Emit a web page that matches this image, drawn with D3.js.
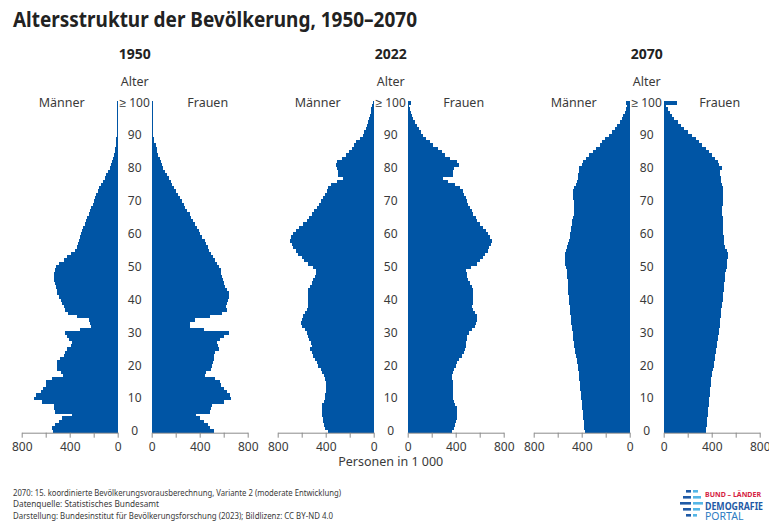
<!DOCTYPE html>
<html>
<head>
<meta charset="utf-8">
<script src="https://cdn.jsdelivr.net/npm/d3@7"></script>
<style>
  body { margin: 0; background: #fff; }
  svg { display: block; }
  text { font-family: 'Noto Sans', sans-serif; }
</style>
</head>
<body>
<svg id="svg" width="769" height="522"></svg>
<script>
// ── Data: population in 1 000 by single year of age (index = age 0..100, last = ≥100) ──
const ages = d3.range(0, 101);
const years = ['1950', '2022', '2070'];

const men1950 = [540, 549, 521, 493, 465, 382, 521, 530, 535, 633, 694, 683, 641, 619, 599, 599, 549, 460, 471, 502,
  502, 502, 479, 451, 438, 420, 390, 382, 404, 424, 438, 312, 223, 234, 242, 340, 415, 438, 451, 465,
  474, 488, 502, 507, 516, 521, 527, 527, 527, 521, 513, 490, 450, 424, 390, 360, 340, 330, 323, 315,
  309, 300, 290, 275, 262, 252, 242, 232, 223, 210, 200, 190, 178, 168, 156, 140, 125, 110, 95, 80,
  67, 57, 47, 37, 30, 25, 20, 17, 14, 12, 10, 9, 9, 9, 9, 9, 9, 9, 9, 9, 9];
const women1950 = [516, 482, 465, 438, 404, 371, 488, 493, 502, 599, 663, 655, 627, 605, 577, 571, 530, 446, 454, 493,
  502, 510, 516, 516, 530, 557, 549, 543, 571, 605, 641, 438, 320, 320, 357, 488, 585, 627, 621, 627,
  635, 641, 641, 627, 613, 599, 594, 585, 577, 577, 557, 543, 530, 512, 496, 480, 465, 452, 440, 420,
  404, 390, 376, 362, 348, 330, 315, 297, 279, 265, 251, 237, 223, 205, 187, 173, 159, 145, 131, 111,
  92, 85, 78, 66, 56, 48, 42, 32, 22, 16, 12, 10, 9, 9, 9, 9, 9, 9, 9, 9, 9];

const men2022 = [379, 407, 415, 421, 421, 429, 435, 435, 429, 415, 407, 404, 399, 401, 401, 401, 407, 415, 429, 443,
  462, 476, 490, 504, 518, 531, 518, 526, 537, 545, 559, 573, 595, 606, 601, 587, 573, 559, 545, 551,
  551, 545, 551, 545, 531, 518, 504, 490, 482, 482, 510, 545, 579, 601, 628, 648, 670, 684, 698, 692,
  675, 648, 620, 587, 559, 537, 518, 495, 471, 457, 443, 421, 407, 393, 379, 352, 310, 255, 296, 296,
  304, 316, 304, 268, 233, 205, 183, 163, 144, 116, 89, 77, 66, 56, 47, 40, 33, 26, 19, 12, 9];
const women2022 = [367, 386, 397, 403, 408, 414, 414, 408, 397, 389, 381, 381, 375, 375, 381, 375, 367, 367, 375, 389,
  403, 414, 431, 450, 469, 481, 486, 486, 492, 497, 514, 533, 561, 569, 575, 575, 561, 547, 536, 542,
  547, 547, 547, 542, 533, 519, 506, 497, 492, 486, 525, 575, 603, 625, 644, 667, 681, 694, 700, 686,
  672, 653, 625, 603, 581, 567, 547, 533, 519, 506, 497, 483, 469, 458, 436, 394, 339, 297, 375, 375,
  386, 431, 408, 353, 311, 283, 250, 214, 186, 150, 131, 108, 92, 75, 61, 47, 36, 25, 17, 11, 25];

const men2070 = [374, 379, 382, 385, 388, 390, 393, 396, 399, 401, 404, 407, 410, 412, 415, 418, 421, 424, 426, 429,
  432, 437, 443, 448, 454, 460, 462, 468, 471, 473, 476, 482, 484, 487, 490, 493, 495, 498, 501, 504,
  507, 509, 512, 512, 515, 518, 518, 520, 520, 526, 534, 540, 540, 540, 540, 534, 526, 512, 504, 498,
  495, 493, 490, 484, 479, 471, 468, 462, 462, 465, 468, 471, 473, 473, 465, 451, 443, 435, 429, 421,
  421, 401, 388, 368, 340, 304, 277, 249, 230, 208, 174, 147, 125, 102, 80, 64, 53, 42, 33, 22, 33];
const women2070 = [350, 356, 358, 361, 364, 367, 369, 372, 375, 378, 381, 383, 386, 389, 392, 394, 397, 400, 406, 411,
  417, 422, 428, 431, 433, 439, 442, 444, 450, 456, 461, 464, 467, 469, 472, 475, 478, 481, 483, 489,
  492, 494, 497, 500, 503, 506, 508, 511, 511, 519, 528, 528, 531, 533, 533, 525, 511, 506, 503, 500,
  497, 494, 497, 494, 492, 492, 489, 489, 489, 492, 497, 492, 494, 497, 497, 483, 478, 475, 469, 469,
  483, 461, 450, 428, 406, 378, 350, 322, 297, 267, 233, 200, 169, 142, 117, 89, 67, 50, 33, 17, 108];

const menByYear = [men1950, men2022, men2070];
const womenByYear = [women1950, women2022, women2070];

const tickValues = [0, 200, 400, 600, 800];
const labelledTicks = [0, 400, 800];
const ageLabels = [0, 10, 20, 30, 40, 50, 60, 70, 80, 90, 100];

const footerLines = [
  '2070: 15. koordinierte Bevölkerungsvorausberechnung, Variante 2 (moderate Entwicklung)',
  'Datenquelle: Statistisches Bundesamt',
  'Darstellung: Bundesinstitut für Bevölkerungsforschung (2023); Bildlizenz: CC BY-ND 4.0',
];
const footerWidths = [328, 146, 320];

// ── Layout ──
const BLUE = '#0055a5';
const TEXT = '#3a3a3a';
const halfW = 96, gap = 34, step = 256, left0 = 21.7;
const plotTop = 100.7, plotBottom = 432.7;

const svg = d3.select('#svg');

svg.append('text')
  .attr('x', 13).attr('y', 27)
  .attr('font-size', 22).attr('font-weight', 700).attr('fill', '#222')
  .attr('textLength', 404).attr('lengthAdjust', 'spacingAndGlyphs')
  .text('Altersstruktur der Bevölkerung, 1950–2070');

const y = d3.scaleBand().domain(ages.slice().reverse()).range([plotTop, plotBottom]).padding(0);

years.forEach((year, i) => {
  const ox = left0 + i * step;
  const cx = ox + halfW + gap / 2;
  const xL = d3.scaleLinear().domain([0, 800]).range([ox + halfW, ox]);
  const xR = d3.scaleLinear().domain([0, 800]).range([ox + halfW + gap, ox + 2 * halfW + gap]);
  const g = svg.append('g');
  const men = menByYear[i], women = womenByYear[i];

  // bars (crisp edges + a little overlap so no seams show between ages)
  g.append('g').attr('shape-rendering', 'crispEdges').selectAll('rect')
    .data(ages)
    .join('rect')
    .attr('x', a => xL(men[a]))
    .attr('width', a => xL(0) - xL(men[a]))
    .attr('y', a => y(a))
    .attr('height', y.bandwidth() + 0.6)
    .attr('fill', BLUE);

  g.append('g').attr('shape-rendering', 'crispEdges').selectAll('rect')
    .data(ages)
    .join('rect')
    .attr('x', xR(0))
    .attr('width', a => xR(women[a]) - xR(0))
    .attr('y', a => y(a))
    .attr('height', y.bandwidth() + 0.6)
    .attr('fill', BLUE);

  // axes
  [xL, xR].forEach(x => {
    const ax = g.append('g')
      .attr('transform', `translate(0,${plotBottom})`)
      .call(d3.axisBottom(x)
        .tickValues(tickValues)
        .tickFormat(d => labelledTicks.includes(d) ? d : '')
        .tickSize(5).tickSizeOuter(0).tickPadding(5));
    ax.select('.domain').attr('stroke', '#8c8c8c');
    ax.selectAll('.tick line').attr('stroke', '#8c8c8c');
    ax.selectAll('.tick text')
      .attr('font-family', "'Noto Sans', sans-serif")
      .attr('font-size', 12).attr('fill', TEXT);
  });

  // age labels
  g.append('g').selectAll('text')
    .data(ageLabels)
    .join('text')
    .attr('x', cx)
    .attr('y', a => y(a) + y.bandwidth() / 2)
    .attr('dy', '0.35em')
    .attr('text-anchor', 'middle')
    .attr('font-size', 12).attr('fill', TEXT)
    .text(a => a === 100 ? '≥ 100' : a);

  g.append('text')
    .attr('x', cx).attr('y', 59)
    .attr('text-anchor', 'middle')
    .attr('font-size', 14).attr('font-weight', 700).attr('fill', '#222')
    .text(year);

  g.append('text')
    .attr('x', cx).attr('y', 85.5)
    .attr('text-anchor', 'middle')
    .attr('font-size', 12.5).attr('fill', TEXT)
    .text('Alter');

  g.append('text')
    .attr('x', ox + 40).attr('y', 106.5)
    .attr('text-anchor', 'middle')
    .attr('font-size', 12.5).attr('fill', TEXT)
    .text('Männer');

  g.append('text')
    .attr('x', ox + 186).attr('y', 106.5)
    .attr('text-anchor', 'middle')
    .attr('font-size', 12.5).attr('fill', TEXT)
    .text('Frauen');

  if (i === 1) {
    g.append('text')
      .attr('x', cx).attr('y', 466)
      .attr('text-anchor', 'middle')
      .attr('font-size', 12.5).attr('fill', TEXT)
      .text('Personen in 1 000');
  }
});

// ── Footer ──
svg.append('g').selectAll('text')
  .data(footerLines)
  .join('text')
  .attr('x', 13)
  .attr('y', (d, i) => 496 + i * 11.3)
  .attr('font-size', 8.5).attr('fill', TEXT)
  .attr('textLength', (d, i) => footerWidths[i]).attr('lengthAdjust', 'spacingAndGlyphs')
  .text(d => d);

// ── Logo ──
const logo = svg.append('g').attr('transform', 'translate(680,488)');
const dashes = [
  { y: 2, d: 5, l: 5 },
  { y: 8, d: 8, l: 8 },
  { y: 14, d: 11, l: 10 },
  { y: 20, d: 8, l: 7 },
  { y: 26, d: 5, l: 4 },
];
dashes.forEach(r => {
  logo.append('rect').attr('x', 11 - r.d).attr('y', r.y).attr('width', r.d).attr('height', 2.6).attr('fill', '#1f5aa6');
  logo.append('rect').attr('x', 13).attr('y', r.y).attr('width', r.l).attr('height', 2.6).attr('fill', '#55b6e6');
});
logo.append('text').attr('x', 25).attr('y', 8.5)
  .attr('font-size', 7).attr('font-weight', 700).attr('fill', '#d5213f')
  .text('BUND – LÄNDER');
logo.append('text').attr('x', 25).attr('y', 21.5)
  .attr('font-size', 10.5).attr('font-weight', 700).attr('fill', '#1f5aa6')
  .attr('textLength', 58).attr('lengthAdjust', 'spacingAndGlyphs')
  .text('DEMOGRAFIE');
logo.append('text').attr('x', 25).attr('y', 32)
  .attr('font-size', 10.5).attr('fill', '#2e7cc2')
  .text('PORTAL');
</script>
</body>
</html>
